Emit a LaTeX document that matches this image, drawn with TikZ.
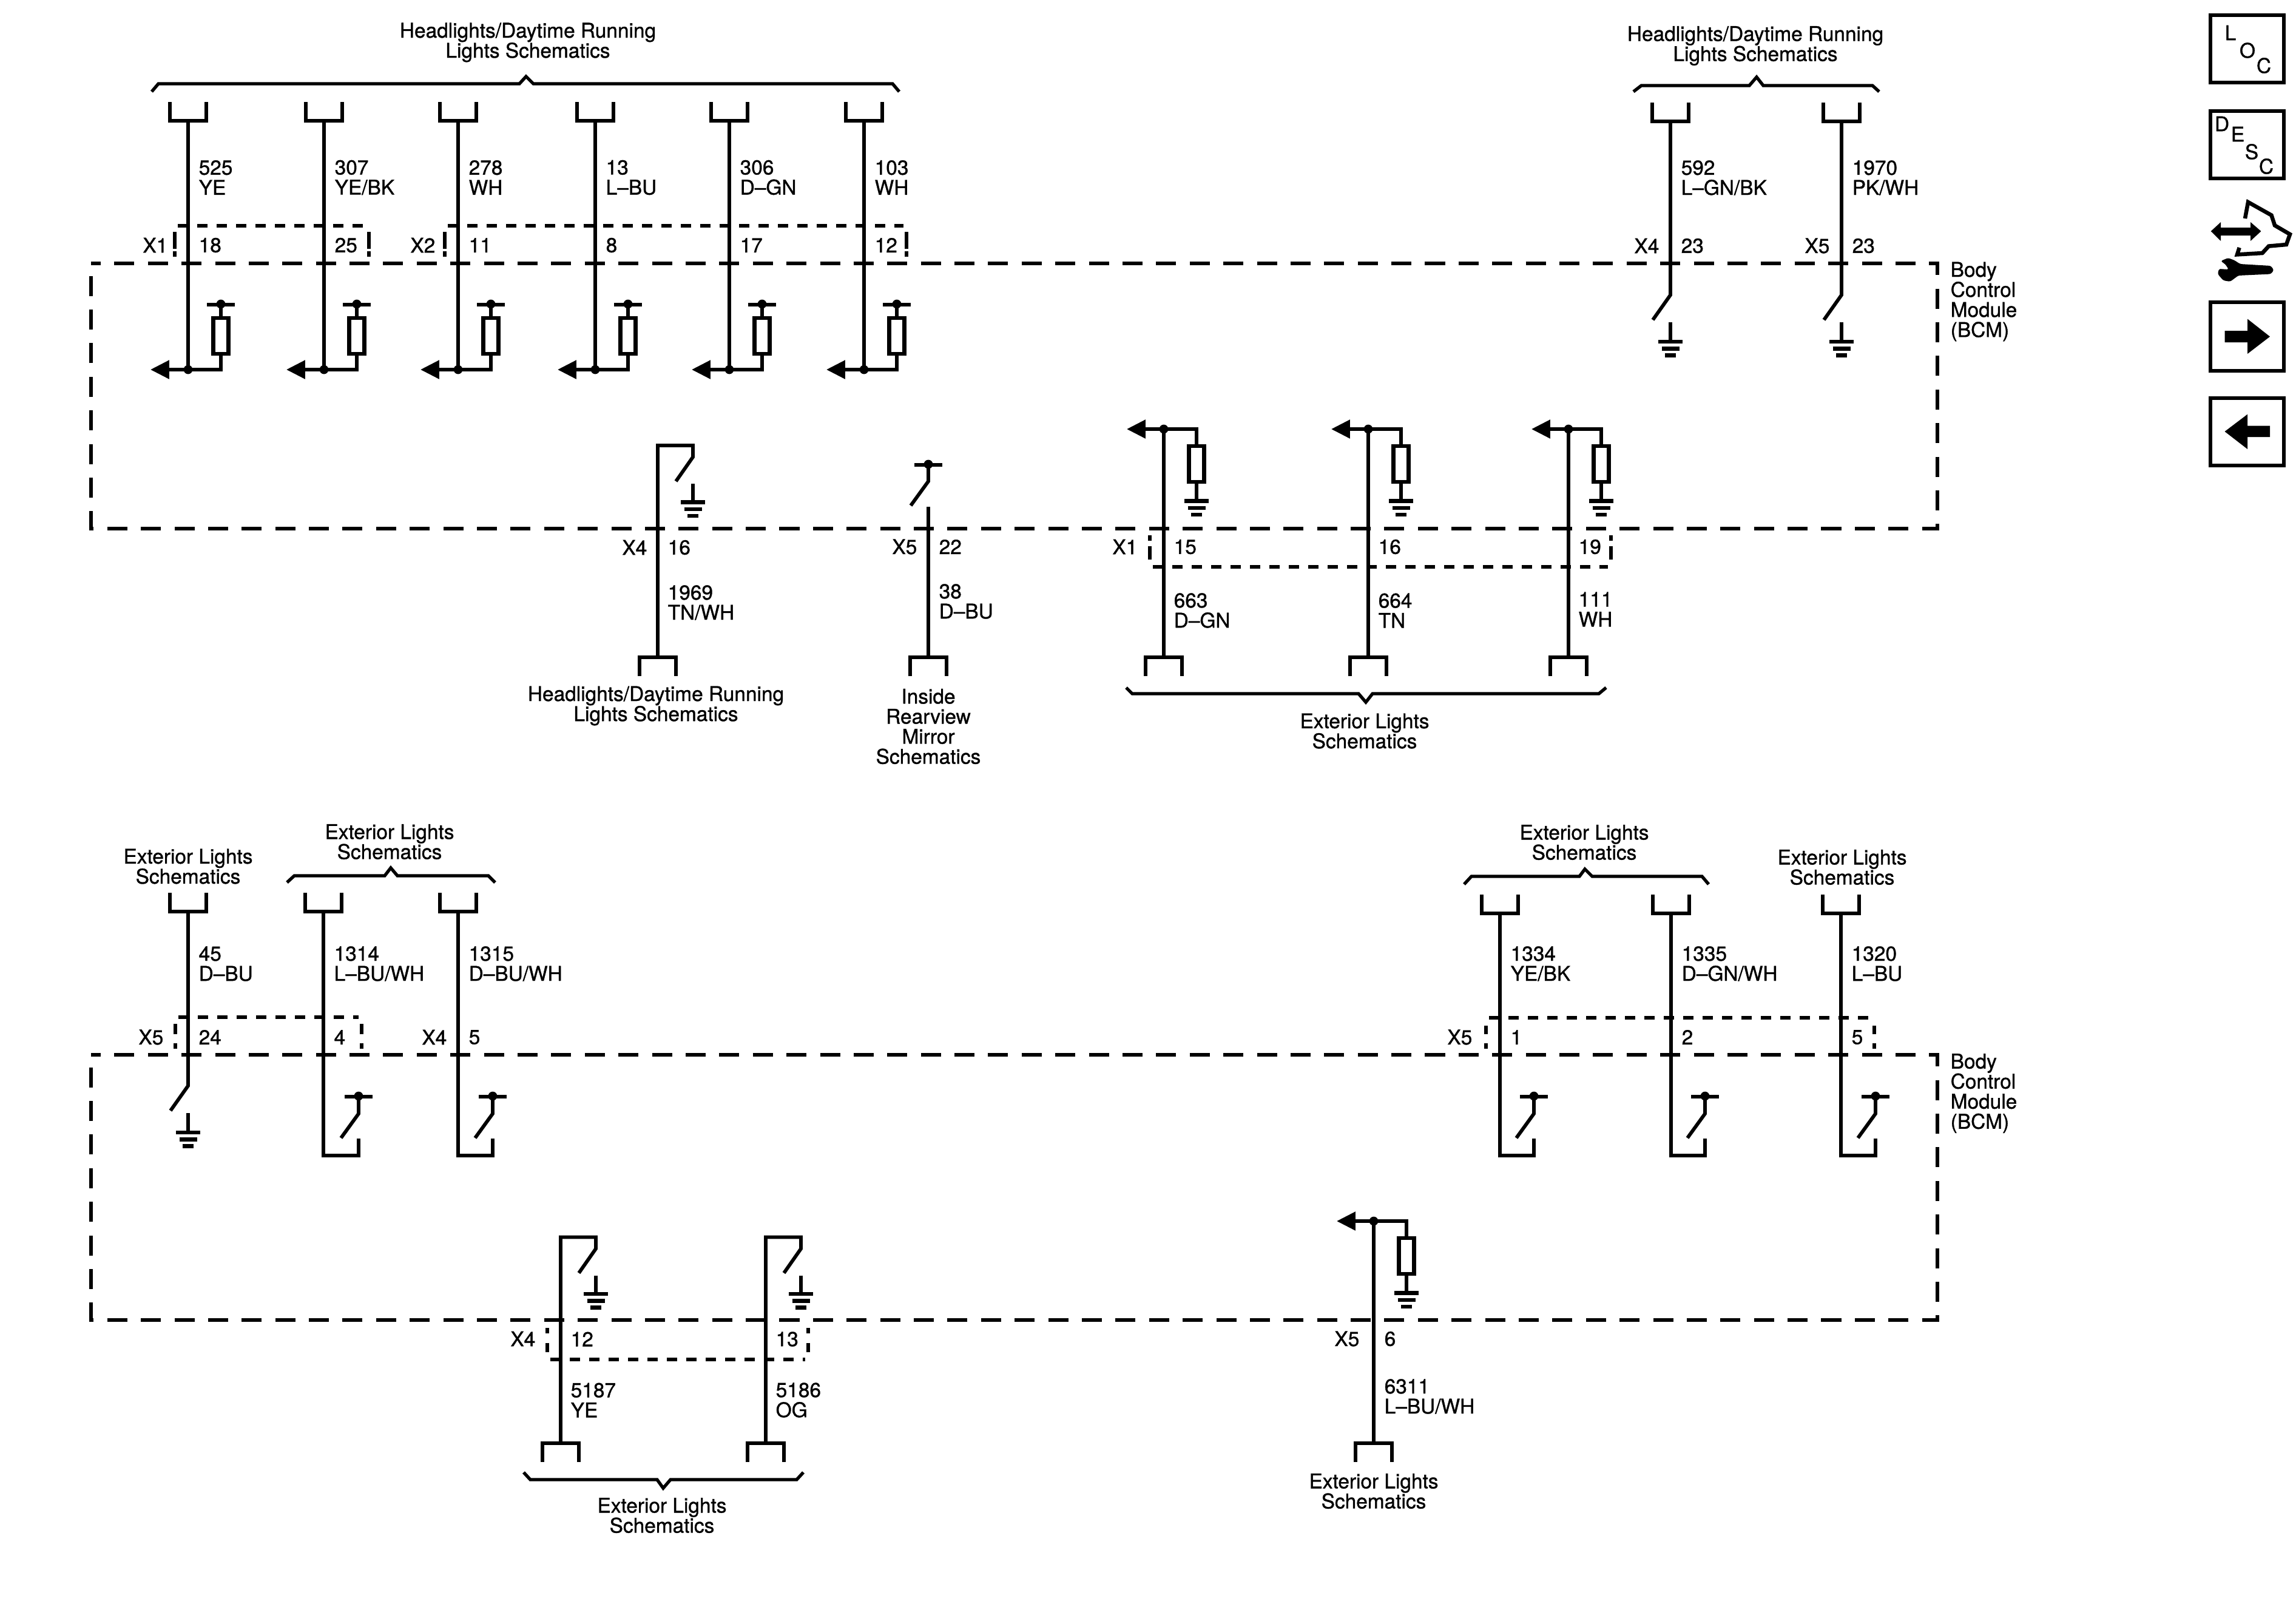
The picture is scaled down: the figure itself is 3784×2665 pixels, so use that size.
\documentclass[tikz,border=0pt]{standalone}
\usepackage{fontspec}
\setmainfont[FakeBold=1]{TeX Gyre Heros}
\usetikzlibrary{arrows.meta,positioning,calc}

\newcommand{\lblfont}{\fontsize{9.5}{9.4}\selectfont}
% dashed shell of a connector: x left, x right, y of long side, side start, side end, gap
\newcommand{\pinshell}[6]{
    \draw[connline] (#1+5,#3) -- (#2-5,#3);
    \draw[connside=#6] (#1,#4) -- (#1,#5);
    \draw[connside=#6] (#2,#4) -- (#2,#5);
}

\begin{document}
\begin{tikzpicture}[x=0.01cm, y=-0.01cm]
    % Define styles
    \tikzset{
        wire/.style={line width=1.65pt},
        plug/.style={line width=1.85pt},
        brace/.style={line width=1.5pt},
        moduleline/.style={line width=1.9pt, dash pattern=on 9.39pt off 6.36pt, dash phase=4.84pt},
        connline/.style={line width=1.7pt, dash pattern=on 4.8pt off 4.3pt},
        connside/.style={line width=1.7pt, dash pattern=on 2.5pt off #1 on 30pt},
        flow/.style={-{Triangle[length=8.8pt,width=8.5pt]}},
        resistor/.style={draw, line width=1.75pt, minimum width=0.25cm, minimum height=0.59cm, inner sep=0pt},
        lbl/.style={font=\lblfont, inner sep=0pt, anchor=west, align=left},
        xlbl/.style={font=\lblfont, inner sep=0pt, anchor=east},
        ctr/.style={font=\lblfont, inner sep=0pt, align=center},
        iconbox/.style={draw, line width=1.7pt, minimum width=1.21cm, inner sep=0pt},
        letter/.style={font=\fontsize{9.5}{9.5}\selectfont, inner sep=0pt},
        pics/plugdown/.style={code={\draw[plug] (-30,-31) -- (-30,0) -- (30,0) -- (30,-31);}},
        pics/plugup/.style={code={\draw[plug] (-30,31) -- (-30,0) -- (30,0) -- (30,31);}},
        pics/pullup/.style={code={
            \draw[plug] (-23,0) -- (23,0);
            \fill (0,-1) circle (2.1pt);
        }},
        pics/earth/.style={code={
            \draw[plug] (-20,0) -- (20,0);
            \draw[plug] (-14.5,11.5) -- (14.5,11.5);
            \draw[plug] (-9,22.5) -- (9,22.5);
        }}
    }

    \useasboundingbox (0,0) rectangle (3784,2665);

    % Module outlines
    \node[coordinate] (modAnw) at (150,434) {};
    \node[coordinate] (modAse) at (3193,871) {};
    \node[coordinate] (modBnw) at (150,1738) {};
    \node[coordinate] (modBse) at (3193,2175) {};
    \draw[moduleline] (modAnw) -| (modAse) -| (modAnw) -- cycle;
    \draw[moduleline] (modBnw) -| (modBse) -| (modBnw) -- cycle;
    \node[lbl] (bcmA) at (3214,497) {Body\\Control\\Module\\(BCM)};
    \node[lbl] (bcmB) at (3214,1801.5) {Body\\Control\\Module\\(BCM)};

    % Connector shells
    \pinshell{288}{608}{372}{423}{382}{1.1pt}
    \pinshell{733}{1494}{372}{423}{382}{1.1pt}
    \pinshell{1895}{2655}{934}{882}{922}{2.6pt}
    \pinshell{289}{596}{1676}{1728}{1687}{4.3pt}
    \pinshell{2449}{3089}{1677}{1728}{1690}{4.3pt}
    \pinshell{902}{1332}{2240}{2188}{2228}{4.5pt}

    % Braces
    \draw[brace] (250,151) -- (261,138) -- (856,138) -- (867,126) -- (879,138) -- (1471,138) -- (1482,151);
    \draw[brace] (2692,151) -- (2705,141) -- (2883,141) -- (2895,127) -- (2906,141) -- (3086,141) -- (3097,151);
    \draw[brace] (1856,1133) -- (1866,1143) -- (2239,1143) -- (2251,1157) -- (2262,1143) -- (2635,1143) -- (2647,1133);
    \draw[brace] (473,1454) -- (485,1443) -- (634,1443) -- (644,1430) -- (655,1443) -- (805,1443) -- (816,1454);
    \draw[brace] (2413,1457) -- (2425,1444) -- (2603,1444) -- (2612,1432) -- (2624,1444) -- (2805,1444) -- (2816,1457);
    \draw[brace] (863,2426) -- (874,2438) -- (1083,2438) -- (1093,2452) -- (1105,2438) -- (1313,2438) -- (1324,2426);

    % Group captions
    \node[ctr] (capA) at (870,70) {Headlights/Daytime Running\\Lights Schematics};
    \node[ctr] (capB) at (2893,75.5) {Headlights/Daytime Running\\Lights Schematics};
    \node[ctr] (capC) at (1081,1163) {Headlights/Daytime Running\\Lights Schematics};
    \node[ctr] (capD) at (1530,1197) {Inside\\Rearview\\Mirror\\Schematics};
    \node[ctr] (capE) at (2249,1204.5) {Exterior Lights\\Schematics};
    \node[ctr] (capF) at (310,1427.5) {Exterior Lights\\Schematics};
    \node[ctr] (capG) at (642,1387) {Exterior Lights\\Schematics};
    \node[ctr] (capH) at (2611,1388) {Exterior Lights\\Schematics};
    \node[ctr] (capI) at (3036,1429) {Exterior Lights\\Schematics};
    \node[ctr] (capJ) at (1091,2497) {Exterior Lights\\Schematics};
    \node[ctr] (capK) at (2264,2457) {Exterior Lights\\Schematics};

    % Inputs with pull-up resistor
    \foreach \n/\x/\num/\col/\pin in {a/310/525/YE/18, b/534/307/{YE/BK}/25, c/755/278/WH/11,
        d/981/13/L–BU/8, e/1202/306/D–GN/17, f/1424/103/WH/12} {
        \node[coordinate] (top\n) at (\x,199) {};
        \node[coordinate] (tap\n) at (\x,609) {};
        \node[coordinate] (tip\n) at (\x-62,609) {};
        \node[coordinate] (rail\n) at (\x+54,502) {};
        \node[coordinate] (ret\n) at (\x+54,609) {};
        \node[resistor] (res\n) at (\x+54,553.5) {};
        \node[lbl] (lab\n) at (\x+17,292.5) {\num\\\col};
        \node[lbl] (pin\n) at (\x+17,404) {\pin};
        \pic at (top\n) {plugdown};
        \pic at (rail\n) {pullup};
        \draw[wire] (top\n) -- (tap\n);
        \draw[wire] (rail\n) -- (res\n.north);
        \draw[wire] (res\n.south) -- (ret\n) -- (tap\n);
        \draw[wire, flow] (tap\n) -- (tip\n);
        \fill (tap\n) circle (2.1pt);
    }
    \node[xlbl] (xA) at (277,404) {X1};
    \node[xlbl] (xB) at (718,404) {X2};

    % Switches to ground
    \foreach \n/\x/\yp/\yl/\ypin/\yh/\num/\col/\pin/\con/\dx in {g/2753/200/293/405/486/592/{L–GN/BK}/23/X4/18, h/3035/200/293/405/486/1970/{PK/WH}/23/X5/19,
        i/310/1502/1588/1709/1789/45/D–BU/24/X5/40} {
        \node[coordinate] (top\n) at (\x,\yp) {};
        \node[coordinate] (hinge\n) at (\x,\yh) {};
        \node[coordinate] (blade\n) at (\x-29,\yh+41) {};
        \node[coordinate] (stem\n) at (\x,\yh+45) {};
        \node[coordinate] (gnd\n) at (\x,\yh+77) {};
        \node[lbl] (lab\n) at (\x+17,\yl) {\num\\\col};
        \node[lbl] (pin\n) at (\x+17,\ypin) {\pin};
        \node[xlbl] (x\n) at (\x-\dx,\ypin) {\con};
        \pic at (top\n) {plugdown};
        \pic at (gnd\n) {earth};
        \draw[wire] (top\n) -- (hinge\n) -- (blade\n);
        \draw[wire] (stem\n) -- (gnd\n);
    }

    % Inputs switched to a local pull-up
    \foreach \n/\x/\dx/\yp/\num/\col/\pin in {j/533/58/1502/1314/{L–BU/WH}/4,
        k/755/57/1502/1315/{D–BU/WH}/5, l/2472/56/1505/1334/{YE/BK}/1,
        m/2754/56/1505/1335/{D–GN/WH}/2, n/3034/57/1505/1320/{L–BU}/5} {
        \node[coordinate] (top\n) at (\x,\yp) {};
        \node[coordinate] (low\n) at (\x,1904) {};
        \node[coordinate] (rise\n) at (\x+\dx,1876) {};
        \node[coordinate] (rail\n) at (\x+\dx,1807) {};
        \node[coordinate] (hinge\n) at (\x+\dx,1835) {};
        \node[coordinate] (blade\n) at (\x+\dx-29,1875) {};
        \node[lbl] (lab\n) at (\x+17,1588) {\num\\\col};
        \node[lbl] (pin\n) at (\x+17,1709) {\pin};
        \pic at (top\n) {plugdown};
        \pic at (rail\n) {pullup};
        \draw[wire] (top\n) -- (low\n) -| (rise\n);
        \draw[wire] (rail\n) -- (hinge\n) -- (blade\n);
    }
    \node[xlbl] (xk) at (737,1709) {X4};
    \node[xlbl] (xl) at (2427,1709) {X5};

    % Outputs switched to ground
    \foreach \n/\x/\yt/\yp/\yl/\num/\col/\pin in {o/1084/734/1083/993/1969/{TN/WH}/16,
        p/924/2038.5/2378/2307/5187/YE/12, q/1262/2038.5/2378/2307/5186/OG/13} {
        \node[coordinate] (bot\n) at (\x,\yp) {};
        \node[coordinate] (head\n) at (\x,\yt) {};
        \node[coordinate] (hinge\n) at (\x+58,\yt+19) {};
        \node[coordinate] (blade\n) at (\x+30,\yt+59) {};
        \node[coordinate] (stem\n) at (\x+58,\yt+63) {};
        \node[coordinate] (gnd\n) at (\x+58,\yt+93.5) {};
        \node[lbl] (lab\n) at (\x+16,\yl) {\num\\\col};
        \node[lbl] (pin\n) at (\x+16,\yt+168) {\pin};
        \pic at (bot\n) {plugup};
        \pic at (gnd\n) {earth};
        \draw[wire] (bot\n) -- (head\n) -| (hinge\n) -- (blade\n);
        \draw[wire] (stem\n) -- (gnd\n);
    }
    \node[xlbl] (xo) at (1067,902) {X4};
    \node[xlbl] (xp) at (883,2206) {X4};

    % Mirror output
    \node[coordinate] (botr) at (1530,1083) {};
    \node[coordinate] (openr) at (1530,835) {};
    \node[coordinate] (hinger) at (1530,793) {};
    \node[coordinate] (blader) at (1501,833) {};
    \node[coordinate] (railr) at (1530,766) {};
    \pic at (botr) {plugup};
    \pic at (railr) {pullup};
    \draw[wire] (botr) -- (openr);
    \draw[wire] (railr) -- (hinger) -- (blader);
    \node[lbl] (labr) at (1547,991) {38\\D–BU};
    \node[lbl] (pinr) at (1547,901) {22};
    \node[xlbl] (xr) at (1512,901) {X5};

    % Sensed outputs with pull-down resistor
    \foreach \n/\x/\yt/\yp/\yl/\ypin/\num/\col/\pin/\dl in {s/1918/707/1083/1006/901/663/D–GN/15/16, t/2255/707/1083/1006/901/664/TN/16/16,
        u/2585/707/1083/1004/901/111/WH/19/16, v/2264/2012/2378/2301/2206/6311/{L–BU/WH}/6/17} {
        \node[coordinate] (bot\n) at (\x,\yp) {};
        \node[coordinate] (tap\n) at (\x,\yt) {};
        \node[coordinate] (tip\n) at (\x-61,\yt) {};
        \node[coordinate] (ret\n) at (\x+54,\yt) {};
        \node[resistor] (res\n) at (\x+54,\yt+57.5) {};
        \node[coordinate] (gnd\n) at (\x+54,\yt+118.5) {};
        \node[lbl] (lab\n) at (\x+\dl,\yl) {\num\\\col};
        \node[lbl] (pin\n) at (\x+\dl,\ypin) {\pin};
        \pic at (bot\n) {plugup};
        \pic at (gnd\n) {earth};
        \draw[wire] (bot\n) -- (tap\n);
        \draw[wire] (tap\n) -- (ret\n) -- (res\n.north);
        \draw[wire] (res\n.south) -- (gnd\n);
        \draw[wire, flow] (tap\n) -- (tip\n);
        \fill (tap\n) circle (2.1pt);
    }
    \node[xlbl] (xs) at (1875,901) {X1};
    \node[xlbl] (xv) at (2241,2206) {X5};

    % Side icons
    \node[iconbox, minimum height=1.11cm] (locbox) at (3703.5,80.5) {};
    \node[letter] (locL) at (3676,54) {L};
    \node[letter] (locO) at (3704,83) {O};
    \node[letter] (locC) at (3731,108) {C};
    \node[iconbox, minimum height=1.11cm] (descbox) at (3703.5,238.5) {};
    \node[letter] (descD) at (3662,204) {D};
    \node[letter] (descE) at (3688,221) {E};
    \node[letter] (descS) at (3711,250) {S};
    \node[letter] (descC) at (3735,274) {C};
    \draw[plug] (3700,360) -- (3705,333) -- (3743.5,354.6) -- (3749,371.4) -- (3774,386) -- (3768,403) -- (3739,405.6) -- (3728.5,417) -- (3687,419.4) -- (3690.6,408);
    \fill (3643.7,381) -- (3660,366) -- (3660,375) -- (3709,375) -- (3709,366) -- (3726.4,381) -- (3709,397) -- (3709,388) -- (3660,388) -- (3660,397) -- cycle;
    \fill[rounded corners=0.8pt] (3747.5,445) -- (3742.5,438) -- (3692,435) -- (3682,428.6) -- (3672,425) -- (3660,430) -- (3668,436) -- (3673,444) -- (3657,443) -- (3655,451.5) -- (3664,462) -- (3675.5,464) -- (3689,454) -- (3742.5,451.5) -- cycle;
    \node[iconbox, minimum height=1.13cm] (fwdbox) at (3703.5,554.5) {};
    \fill (3666.5,545) -- (3704,545) -- (3704,525.5) -- (3741,554.6) -- (3704,583) -- (3704,564) -- (3666.5,564) -- cycle;
    \node[iconbox, minimum height=1.11cm] (backbox) at (3703.5,711.5) {};
    \fill (3741,701.5) -- (3704,701.5) -- (3704,682.6) -- (3666.5,711) -- (3704,740) -- (3704,720) -- (3741,720) -- cycle;
\end{tikzpicture}
\end{document}
